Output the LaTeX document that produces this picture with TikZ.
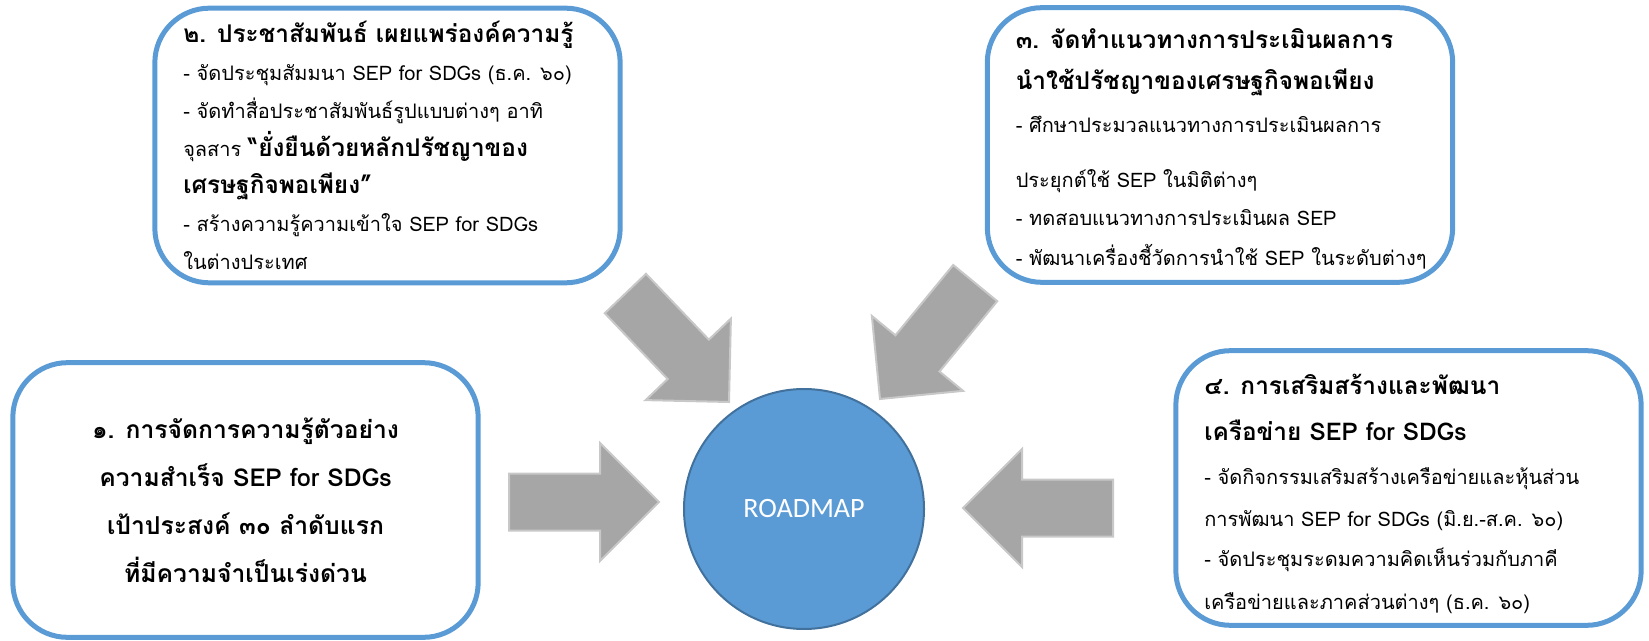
\documentclass[tikz,border=0pt]{standalone}
\usepackage{fontspec}
\setmainfont[Script=Thai]{Loma}
\newfontfamily\roadfont{Carlito}
\usetikzlibrary{positioning}
\definecolor{boxblue}{RGB}{91,155,213}
\definecolor{ringblue}{RGB}{65,113,156}
\definecolor{arrowgray}{RGB}{166,166,166}
\definecolor{arrowrim}{RGB}{200,200,200}
\newcommand\cardhead[1]{{\fontsize{18.3pt}{28pt}\selectfont\bfseries #1}}

\begin{document}
\begin{tikzpicture}[
  x=0.75pt, y=-0.75pt,
  every node/.style={
    inner sep=0mm,
    text=black
  },
  card/.style={
    draw=boxblue,
    line width=3.75pt,
    rounded corners=41pt,
    minimum width=349pt,
    minimum height=206pt
  },
  cardtext/.style={align=left},
  fatarrow/.style={
    fill=arrowgray,
    draw=arrowrim,
    line width=1.5pt
  },
]
\useasboundingbox (0,0) rectangle (1649,641);

\node (box1) [card, align=center, font=\bfseries\fontsize{18.5pt}{36pt}\selectfont] at (245.5,500) {%
  ๑. การจัดการความรู้ตัวอย่าง\\
  ความสำเร็จ SEP for SDGs\\
  เป้าประสงค์ ๓๐ ลำดับแรก\\
  ที่มีความจำเป็นเร่งด่วน};

\node (box2) [card] at (387.5,145.5) {};
\node (box2text) [cardtext, right=23pt of box2.west, font=\fontsize{15pt}{28.3pt}\selectfont] {%
  \cardhead{๒. ประชาสัมพันธ์ เผยแพร่องค์ความรู้}\\
  - จัดประชุมสัมมนา SEP for SDGs (ธ.ค. ๖๐)\\
  - จัดทำสื่อประชาสัมพันธ์รูปแบบต่างๆ อาทิ\\
  จุลสาร \cardhead{“ยั่งยืนด้วยหลักปรัชญาของ}\\
  \cardhead{เศรษฐกิจพอเพียง”}\\
  - สร้างความรู้ความเข้าใจ SEP for SDGs\\
  ในต่างประเทศ};

\node (box3) [card] at (1220,145) {};
\node (box3text) [cardtext, right=23pt of box3.west, yshift=-3pt, font=\fontsize{15pt}{29pt}\selectfont] {%
  \cardhead{๓. จัดทำแนวทางการประเมินผลการ}\\[2pt]
  \cardhead{นำใช้ปรัชญาของเศรษฐกิจพอเพียง}\\[3pt]
  - ศึกษาประมวลแนวทางการประเมินผลการ\\[12pt]
  ประยุกต์ใช้ SEP ในมิติต่างๆ\\
  - ทดสอบแนวทางการประเมินผล SEP\\[1pt]
  - พัฒนาเครื่องชี้วัดการนำใช้ SEP ในระดับต่างๆ};

\node (box4) [card] at (1408.5,488) {};
\node (box4text) [cardtext, right=23pt of box4.west, yshift=-4.5pt, font=\fontsize{15pt}{31.5pt}\selectfont] {%
  \cardhead{๔. การเสริมสร้างและพัฒนา}\\[3pt]
  \cardhead{เครือข่าย SEP for SDGs}\\[1.5pt]
  - จัดกิจกรรมเสริมสร้างเครือข่ายและหุ้นส่วน\\
  การพัฒนา SEP for SDGs (มิ.ย.-ส.ค. ๖๐)\\[-1.5pt]
  - จัดประชุมระดมความคิดเห็นร่วมกับภาคี\\[1pt]
  เครือข่ายและภาคส่วนต่างๆ (ธ.ค. ๖๐)};

\node (roadmap) [circle, fill=boxblue, draw=ringblue, line width=1.5pt, minimum size=180pt,
  text=white, font=\roadfont\fontsize{21pt}{24pt}\selectfont] at (804,509) {ROADMAP};

\foreach \tipx/\tipy/\turn in {659/502/0, 729/402/-46.3, 880/399/-129.4, 963/508/180}
  \filldraw[fatarrow, shift={(\tipx,\tipy)}, rotate=\turn]
    (0,0) -- (-59,-59) -- (-59,-28.5) -- (-150,-28.5) -- (-150,28.5) -- (-59,28.5) -- (-59,59) -- cycle;

\end{tikzpicture}
\end{document}
